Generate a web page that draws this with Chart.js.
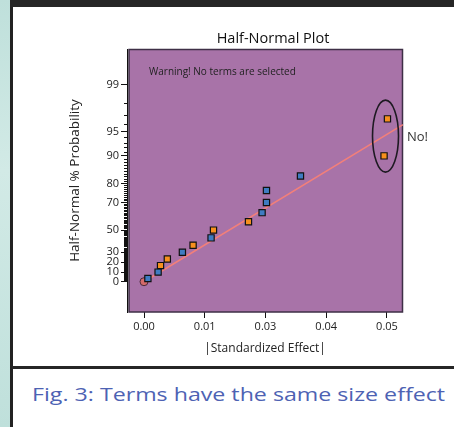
<!DOCTYPE html>
<html>
<head>
<meta charset="utf-8">
<script src="https://cdn.jsdelivr.net/npm/chart.js@4.4.1/dist/chart.umd.min.js"></script>
<style>
  body { margin: 0; width: 454px; height: 427px; position: relative; overflow: hidden; background: #fff; }
  #strip { position: absolute; left: 0; top: 0; width: 10px; height: 427px; background: linear-gradient(#bfe0db, #d2eae6 40%, #bfe0db); }
  #vline { position: absolute; left: 10px; top: 0; width: 3px; height: 427px; background: #222; }
  #topbar { position: absolute; left: 10px; top: 0; width: 444px; height: 7px; background: #262626; }
  #hline { position: absolute; left: 12px; top: 366px; width: 442px; height: 3px; background: #262626; }
  #caption { position: absolute; left: 32px; top: 381px; font: 19px 'Open Sans'; color: #4d62b3; white-space: nowrap;
             transform: scaleX(1.22); transform-origin: 0 0; }
  #graf { position: absolute; left: 0; top: 0; }
</style>
</head>
<body>
<div id="strip"></div>
<div id="vline"></div>
<div id="topbar"></div>
<div id="hline"></div>
<div id="caption">Fig. 3: Terms have the same size effect</div>
<canvas id="graf" width="454" height="427"></canvas>
<script>
// effects (x = |standardized effect|, y = half-normal % probability)
var positivoX = [0.0034, 0.0048, 0.0101, 0.0143, 0.0215, 0.0494, 0.0501];
var positivoPct = [16.67, 23.33, 36.67, 50, 56.67, 90, 96.67];
var negativoX = [0.0008, 0.0029, 0.0079, 0.0138, 0.0243, 0.0252, 0.0252, 0.0322];
var negativoPct = [3.33, 10, 30, 43.33, 63.33, 70, 76.67, 83.33];
var erroX = [0];
var erroPct = [0];
var retaX = [0, 0.0533];
var retaPct = [0, 96.0];

var xTicks = [0, 0.0125, 0.025, 0.0375, 0.05];
var xLabels = ['0.00', '0.01', '0.03', '0.04', '0.05'];
var yLabels = [0, 10, 20, 30, 50, 70, 80, 90, 95, 99];

// inverse normal cdf (Acklam)
function normInv(p) {
    var a = [-3.969683028665376e+01, 2.209460984245205e+02, -2.759285104469687e+02, 1.383577518672690e+02, -3.066479806614716e+01, 2.506628277459239e+00];
    var b = [-5.447609879822406e+01, 1.615858368580409e+02, -1.556989798598866e+02, 6.680131188771972e+01, -1.328068155288572e+01];
    var c = [-7.784894002430293e-03, -3.223964580411365e-01, -2.400758277161838e+00, -2.549732539343734e+00, 4.374664141464968e+00, 2.938163982698783e+00];
    var d = [7.784695709041462e-03, 3.224671290700398e-01, 2.445134137142996e+00, 3.754408661907416e+00];
    var q, r;
    if (p < 0.02425) {
        q = Math.sqrt(-2 * Math.log(p));
        return (((((c[0] * q + c[1]) * q + c[2]) * q + c[3]) * q + c[4]) * q + c[5]) / ((((d[0] * q + d[1]) * q + d[2]) * q + d[3]) * q + 1);
    }
    if (p <= 1 - 0.02425) {
        q = p - 0.5;
        r = q * q;
        return (((((a[0] * r + a[1]) * r + a[2]) * r + a[3]) * r + a[4]) * r + a[5]) * q / (((((b[0] * r + b[1]) * r + b[2]) * r + b[3]) * r + b[4]) * r + 1);
    }
    q = Math.sqrt(-2 * Math.log(1 - p));
    return -(((((c[0] * q + c[1]) * q + c[2]) * q + c[3]) * q + c[4]) * q + c[5]) / ((((d[0] * q + d[1]) * q + d[2]) * q + d[3]) * q + 1);
}

// half-normal probability scale
function meiaNormal(pct) {
    return normInv(0.5 + pct / 200);
}

function pontos(xs, pcts) {
    return xs.map(function (x, i) { return { x: x, y: meiaNormal(pcts[i]) }; });
}

var yTicksPct = [];
for (var i = 0; i <= 99; i++) yTicksPct.push(i);

var fundoPlot = {
    id: 'fundoPlot',
    beforeDatasetsDraw: function (chart) {
        var c = chart.ctx, a = chart.chartArea;
        c.save();
        c.fillStyle = '#a873a8';
        c.fillRect(a.left + 2, a.top, a.right - a.left - 2, a.bottom - a.top);
        c.strokeStyle = '#3e2f46';
        c.lineWidth = 1.5;
        c.strokeRect(a.left + 2, a.top + 0.5, a.right - a.left - 2.5, a.bottom - a.top - 0.5);
        c.restore();
    },
    afterDatasetsDraw: function (chart) {
        var c = chart.ctx, a = chart.chartArea;
        var sx = chart.scales.x, sy = chart.scales.y;
        c.save();
        // y tick labels
        c.fillStyle = '#222';
        c.font = '11px "Open Sans"';
        c.textAlign = 'right';
        c.textBaseline = 'middle';
        yLabels.forEach(function (p) {
            c.fillText(String(p), a.left - 8, sy.getPixelForValue(meiaNormal(p)));
        });
        // title
        c.fillStyle = '#111';
        c.font = '14.5px "Open Sans"';
        c.textAlign = 'center';
        c.fillText('Half-Normal Plot', (a.left + a.right) / 2 + 8, 39);
        // warning
        c.font = '10px "Open Sans"';
        c.fillStyle = '#222';
        c.textAlign = 'left';
        c.fillText('Warning! No terms are selected', a.left + 22, 72);
        // ellipse around the two big effects
        var cx = sx.getPixelForValue(0.0497);
        var cy = sy.getPixelForValue(meiaNormal(94.3));
        c.beginPath();
        c.ellipse(cx, cy, 13, 36, 0, 0, Math.PI * 2);
        c.strokeStyle = '#1e1a22';
        c.lineWidth = 1.6;
        c.stroke();
        // No!
        c.font = '13px "Open Sans"';
        c.fillStyle = '#333';
        c.fillText('No!', a.right + 4, cy + 1);
        c.restore();
    }
};

var ctx = document.getElementById('graf').getContext('2d');
var grafico = new Chart(ctx, {
    type: 'scatter',
    data: {
        datasets: [{
            type: 'line',
            data: pontos(retaX, retaPct),
            borderColor: '#f27f7a',
            borderWidth: 1.6,
            pointRadius: 0,
            order: 3
        }, {
            data: pontos(erroX, erroPct),
            pointStyle: 'circle',
            pointRadius: 4,
            backgroundColor: '#d46a6a',
            borderColor: '#4a2a3a',
            borderWidth: 1,
            order: 2
        }, {
            data: pontos(negativoX, negativoPct),
            pointStyle: 'rect',
            pointRadius: 4.4,
            backgroundColor: '#3f7cc2',
            borderColor: '#111',
            borderWidth: 1.2,
            order: 1
        }, {
            data: pontos(positivoX, positivoPct),
            pointStyle: 'rect',
            pointRadius: 4.4,
            backgroundColor: '#f7901e',
            borderColor: '#111',
            borderWidth: 1.2,
            order: 0
        }]
    },
    options: {
        responsive: false,
        animation: false,
        layout: { padding: { left: 60, top: 49, right: 51, bottom: 71 } },
        plugins: { legend: { display: false }, tooltip: { enabled: false } },
        scales: {
            x: {
                type: 'linear',
                min: -0.0035,
                max: 0.0533,
                afterBuildTicks: function (s) { s.ticks = xTicks.map(function (v) { return { value: v }; }); },
                afterFit: function (s) { s.height = 44; },
                ticks: {
                    autoSkip: false,
                    maxRotation: 0,
                    padding: 2,
                    color: '#222',
                    font: { family: 'Open Sans', size: 11 },
                    callback: function (v, i) { return xLabels[i]; }
                },
                grid: { drawOnChartArea: false, tickLength: 6, tickColor: '#111', tickWidth: 1 },
                border: { display: false },
                title: {
                    display: true,
                    text: '|Standardized Effect|',
                    color: '#222',
                    font: { family: 'Open Sans', size: 12 },
                    padding: { top: 0, bottom: 0 }
                }
            },
            y: {
                type: 'linear',
                min: -0.396,
                max: 3.042,
                afterBuildTicks: function (s) { s.ticks = yTicksPct.map(function (p) { return { value: meiaNormal(p) }; }); },
                afterFit: function (s) { s.width = 67; },
                ticks: { display: false, autoSkip: false },
                grid: {
                    drawOnChartArea: false,
                    tickLength: 6,
                    tickColor: '#111',
                    tickWidth: 1,
                    tickBorderDash: function (c) {
                        return yLabels.indexOf(yTicksPct[c.index]) >= 0 ? [] : [3, 3];
                    },
                    tickBorderDashOffset: function (c) {
                        return yLabels.indexOf(yTicksPct[c.index]) >= 0 ? 0 : 3;
                    }
                },
                border: { display: true, color: '#111', width: 1 },
                title: {
                    display: true,
                    text: 'Half-Normal % Probability',
                    color: '#222',
                    font: { family: 'Open Sans', size: 13.5 },
                    padding: { top: 7, bottom: 0 }
                }
            }
        }
    },
    plugins: [fundoPlot]
});
</script>
</body>
</html>
